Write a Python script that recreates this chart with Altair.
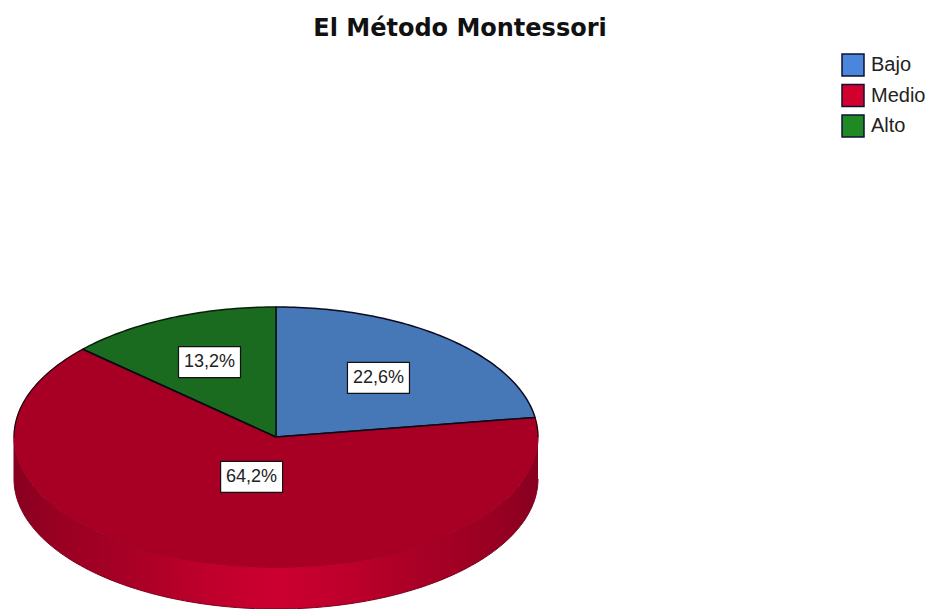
import math
import altair as alt
import pandas as pd

# Values
categories = ["Bajo", "Medio", "Alto"]
percent = [22.6, 64.2, 13.2]
labels = ["22,6%", "64,2%", "13,2%"]
face_colors = ["#4678b8", "#a80024", "#1a6b20"]
legend_colors = ["#4a86dc", "#d0002f", "#1f8a24"]
edge_colors = ["#0a0a20", None, "#0a200a"]
label_radius = [0.60, 0.32, 0.63]

# Layout
W, H, PAD_TOP = 918, 556, 45
CX, CY = 276 - 8, 437 - 8 - PAD_TOP
RX, RY, DEPTH = 262, 130, 42 / 130


def rim(a0, a1, drop=0.0):
    n = max(2, int(abs(a1 - a0)) + 1)
    pts = []
    for k in range(n + 1):
        a = math.radians(a0 + (a1 - a0) * k / n)
        pts.append((math.sin(a), math.cos(a) - drop))
    return pts


def frame(pts):
    return pd.DataFrame({"x": [p[0] for p in pts], "y": [p[1] for p in pts], "i": range(len(pts))})


x_scale = alt.Scale(domain=[-CX / RX, (W - CX) / RX], range=[0, W], nice=False, zero=False)
y_scale = alt.Scale(domain=[-(H - CY) / RY, CY / RY], range=[H, 0], nice=False, zero=False)
X = alt.X("x:Q", scale=x_scale, axis=None)
Y = alt.Y("y:Q", scale=y_scale, axis=None)
ORDER = alt.Order("i:Q")

# Legend source, hidden behind the pie
legend_layer = (
    alt.Chart(pd.DataFrame({"c": categories, "x": [0.0] * 3, "y": [0.0] * 3}))
    .mark_square(size=20, opacity=1)
    .encode(
        x=X,
        y=Y,
        color=alt.Color(
            "c:N",
            scale=alt.Scale(domain=categories, range=legend_colors),
            sort=categories,
            legend=alt.Legend(
                title=None,
                orient="none",
                legendX=833,
                legendY=0,
                symbolType="square",
                symbolSize=484,
                symbolOpacity=1,
                symbolStrokeColor="#101030",
                symbolStrokeWidth=1.5,
                labelFont="Liberation Sans",
                labelFontSize=20,
                labelColor="#222222",
                labelOffset=6,
                rowPadding=2.5,
                padding=0,
            ),
        ),
    )
)

# Front wall of the pie
side_pts = rim(90, 270) + rim(270, 90, DEPTH)
side_fill = alt.LinearGradient(
    gradient="linear",
    x1=0, x2=1, y1=0, y2=0,
    stops=[
        alt.GradientStop(offset=0.0, color="#880020"),
        alt.GradientStop(offset=0.08, color="#980022"),
        alt.GradientStop(offset=0.22, color="#a80026"),
        alt.GradientStop(offset=0.38, color="#c0002c"),
        alt.GradientStop(offset=0.5, color="#cc0030"),
        alt.GradientStop(offset=0.62, color="#c0002c"),
        alt.GradientStop(offset=0.78, color="#a80026"),
        alt.GradientStop(offset=0.92, color="#980022"),
        alt.GradientStop(offset=1.0, color="#880020"),
    ],
)
side_layer = (
    alt.Chart(frame(side_pts))
    .mark_line(fill=side_fill, stroke="#7a001c", strokeWidth=1)
    .encode(x=X, y=Y, order=ORDER)
)

# Top faces
slices = []
start = 0.0
mids = []
bounds = []
for cat, pct, col, edge in zip(categories, percent, face_colors, edge_colors):
    end = start + pct * 3.6
    mids.append((start + end) / 2)
    bounds.append((start, end))
    pts = [(0.0, 0.0)] + rim(start, end) + [(0.0, 0.0)]
    props = dict(fill=col, stroke=edge, strokeWidth=1.5) if edge else dict(fill=col, stroke=col, strokeWidth=0.5)
    slices.append(alt.Chart(frame(pts)).mark_line(**props).encode(x=X, y=Y, order=ORDER))
    start = end

# Black outline of the back of the Medio slice and its two radii
outline = []
for a0, a1 in [(bounds[1][0], 90), (270, bounds[1][1])]:
    outline.append(
        alt.Chart(frame(rim(a0, a1)))
        .mark_line(stroke="#200008", strokeWidth=1.2)
        .encode(x=X, y=Y, order=ORDER)
    )
for a in [bounds[1][0], bounds[1][1]]:
    r = math.radians(a)
    outline.append(
        alt.Chart(frame([(0.0, 0.0), (math.sin(r), math.cos(r))]))
        .mark_line(stroke="#0a0a14", strokeWidth=1.5)
        .encode(x=X, y=Y, order=ORDER)
    )
outline.append(
    alt.Chart(frame([(0.0, 0.0), (0.0, 1.0)]))
    .mark_line(stroke="#06201a", strokeWidth=1.8)
    .encode(x=X, y=Y, order=ORDER)
)

# Value labels in white boxes
BOX_W, BOX_H = 31 / RX, 15.5 / RY
lab_rows = []
for lab, m, r in zip(labels, mids, label_radius):
    a = math.radians(m)
    lx, ly = r * math.sin(a), r * math.cos(a)
    lab_rows.append(dict(t=lab, x=lx, y=ly, x0=lx - BOX_W, x1=lx + BOX_W, y0=ly - BOX_H, y1=ly + BOX_H))
lab_df = pd.DataFrame(lab_rows)

boxes = (
    alt.Chart(lab_df)
    .mark_rect(fill="white", stroke="#111111", strokeWidth=1.2)
    .encode(x=alt.X("x0:Q", scale=x_scale, axis=None), x2="x1:Q",
            y=alt.Y("y0:Q", scale=y_scale, axis=None), y2="y1:Q")
)
texts = (
    alt.Chart(lab_df)
    .mark_text(font="Liberation Sans", fontSize=18, color="#222222", align="center", baseline="middle")
    .encode(x=X, y=Y, text="t:N")
)

chart = (
    alt.layer(legend_layer, side_layer, *slices, *outline, boxes, texts)
    .properties(
        width=W,
        height=H,
        padding={"left": 0, "right": 0, "top": PAD_TOP, "bottom": 0},
        autosize=alt.AutoSizeParams(type="none"),
        background="white",
        title=alt.TitleParams(
            "El Método Montessori",
            font="DejaVu Sans",
            fontSize=24,
            fontWeight="bold",
            color="#111111",
            anchor="middle",
            dx=-7,
            offset=12,
        ),
    )
    .configure_view(stroke=None)
)

chart.save("out.html", embed_options={"renderer": "svg", "actions": False})
